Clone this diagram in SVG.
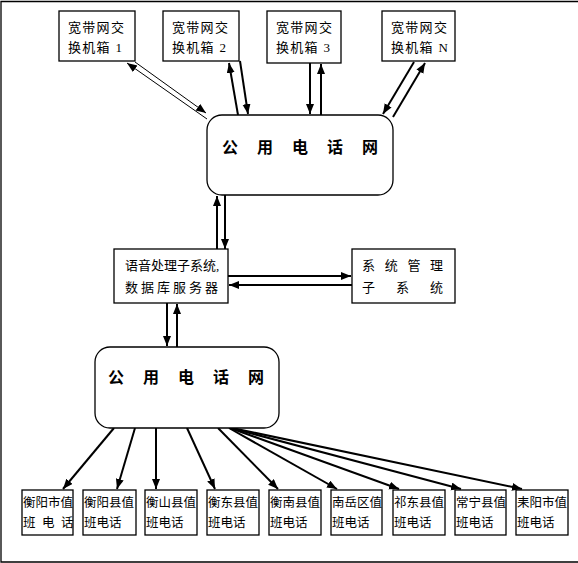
<svg xmlns="http://www.w3.org/2000/svg" width="578" height="563" viewBox="0 0 578 563">
<defs>
<marker id="ah" markerUnits="userSpaceOnUse" markerWidth="11" markerHeight="9" refX="10" refY="4" orient="auto">
<path d="M0,0 L10,4 L0,8 z" fill="#000"/>
</marker>
<style>
.box{fill:#fff;stroke:#000;stroke-width:1.3}
.t{font-family:"Liberation Serif","Noto Sans CJK SC",serif;font-size:13px;fill:#000}
.s{font-family:"Liberation Serif","Noto Sans CJK SC",serif;font-size:12.5px;fill:#000}
.big{font-family:"Liberation Serif","Noto Sans CJK SC",serif;font-size:16px;font-weight:bold;fill:#000;letter-spacing:19px}
.c{stroke:#000;stroke-width:2;fill:none;marker-end:url(#ah)}
.c1{stroke:#000;stroke-width:1;fill:none;marker-end:url(#ah)}
</style>
</defs>
<rect width="578" height="563" fill="#fff"/>
<g id="frame" stroke="#000" stroke-width="1.3" fill="none">
<path d="M578,1.5 L1,1.5 L1,562 L578,562"/>
</g>
<g id="connectors">
<line class="c1" x1="135" y1="62" x2="206" y2="113"/>
<line class="c1" x1="207" y1="119" x2="127" y2="63"/>
<line class="c" x1="240" y1="61" x2="248" y2="114"/>
<line class="c" x1="238" y1="115" x2="229" y2="63"/>
<line class="c" x1="310" y1="63" x2="310" y2="114"/>
<line class="c" x1="321" y1="115" x2="321" y2="64"/>
<line class="c" x1="414" y1="62" x2="383" y2="114"/>
<line class="c" x1="393" y1="117" x2="425" y2="63"/>
<line class="c" x1="217" y1="250" x2="217" y2="196"/>
<line class="c" x1="225" y1="193" x2="225" y2="249"/>
<line class="c" x1="228" y1="276" x2="351" y2="276"/>
<line class="c" x1="352" y1="285" x2="229" y2="285"/>
<line class="c" x1="167" y1="303" x2="167" y2="346"/>
<line class="c" x1="177" y1="347" x2="177" y2="304"/>
<line class="c" x1="114" y1="428" x2="63" y2="489"/>
<line class="c" x1="135" y1="428" x2="117" y2="489"/>
<line class="c" x1="156" y1="428" x2="156" y2="489"/>
<line class="c" x1="187" y1="428" x2="215" y2="489"/>
<line class="c" x1="218" y1="428" x2="278" y2="489"/>
<line class="c" x1="229" y1="428" x2="337" y2="489"/>
<line class="c" x1="230" y1="428" x2="399" y2="489"/>
<line class="c" x1="231" y1="428" x2="461" y2="489"/>
<line class="c" x1="232" y1="428" x2="522" y2="489"/>
</g>
<g id="sw1"><rect class="box" x="59" y="11" width="76" height="50"/><text class="t" x="68" y="32" letter-spacing="1.3">宽带网交</text><text class="t" x="68" y="52" letter-spacing="1.3">换机箱 1</text></g>
<g id="sw2"><rect class="box" x="163" y="11" width="76" height="50"/><text class="t" x="172" y="32" letter-spacing="1.3">宽带网交</text><text class="t" x="172" y="52" letter-spacing="1.3">换机箱 2</text></g>
<g id="sw3"><rect class="box" x="267" y="11" width="74" height="52"/><text class="t" x="276" y="32" letter-spacing="1.3">宽带网交</text><text class="t" x="276" y="52" letter-spacing="1.3">换机箱 3</text></g>
<g id="swN"><rect class="box" x="382" y="11" width="73" height="50"/><text class="t" x="391" y="32" letter-spacing="1.3">宽带网交</text><text class="t" x="391" y="52" letter-spacing="1.3">换机箱 N</text></g>
<g id="pstn1"><rect class="box" x="207" y="115" width="186" height="80" rx="15"/><text class="big" x="222" y="153">公用电话网</text></g>
<g id="voice"><rect class="box" x="114" y="249" width="114" height="54"/><text class="t" x="125" y="270">语音处理子系统,</text><text class="t" x="125" y="292" letter-spacing="3">数据库服务器</text></g>
<g id="mgmt"><rect class="box" x="352" y="249" width="103" height="54"/><text class="t" x="362" y="270" letter-spacing="9.7">系统管理</text><text class="t" x="362" y="292" letter-spacing="21">子系统</text></g>
<g id="pstn2"><rect class="box" x="95" y="347" width="184" height="81" rx="15"/><text class="big" x="108" y="383">公用电话网</text></g>
<g id="d1"><rect class="box" x="22" y="490" width="51" height="45"/><text class="s" x="23" y="507">衡阳市值</text><text class="s" x="23" y="527" letter-spacing="6.5">班电话</text></g>
<g id="d2"><rect class="box" x="83" y="490" width="53" height="45"/><text class="s" x="84" y="507">衡阳县值</text><text class="s" x="84" y="527">班电话</text></g>
<g id="d3"><rect class="box" x="145" y="490" width="52" height="45"/><text class="s" x="146" y="507">衡山县值</text><text class="s" x="146" y="527">班电话</text></g>
<g id="d4"><rect class="box" x="207" y="490" width="52" height="45"/><text class="s" x="208" y="507">衡东县值</text><text class="s" x="208" y="527">班电话</text></g>
<g id="d5"><rect class="box" x="269" y="490" width="52" height="45"/><text class="s" x="270" y="507">衡南县值</text><text class="s" x="270" y="527">班电话</text></g>
<g id="d6"><rect class="box" x="331" y="490" width="51" height="45"/><text class="s" x="332" y="507">南岳区值</text><text class="s" x="332" y="527">班电话</text></g>
<g id="d7"><rect class="box" x="393" y="490" width="52" height="45"/><text class="s" x="394" y="507">祁东县值</text><text class="s" x="394" y="527">班电话</text></g>
<g id="d8"><rect class="box" x="455" y="490" width="51" height="45"/><text class="s" x="456" y="507">常宁县值</text><text class="s" x="456" y="527">班电话</text></g>
<g id="d9"><rect class="box" x="516" y="490" width="52" height="45"/><text class="s" x="517" y="507">耒阳市值</text><text class="s" x="517" y="527">班电话</text></g>
</svg>
